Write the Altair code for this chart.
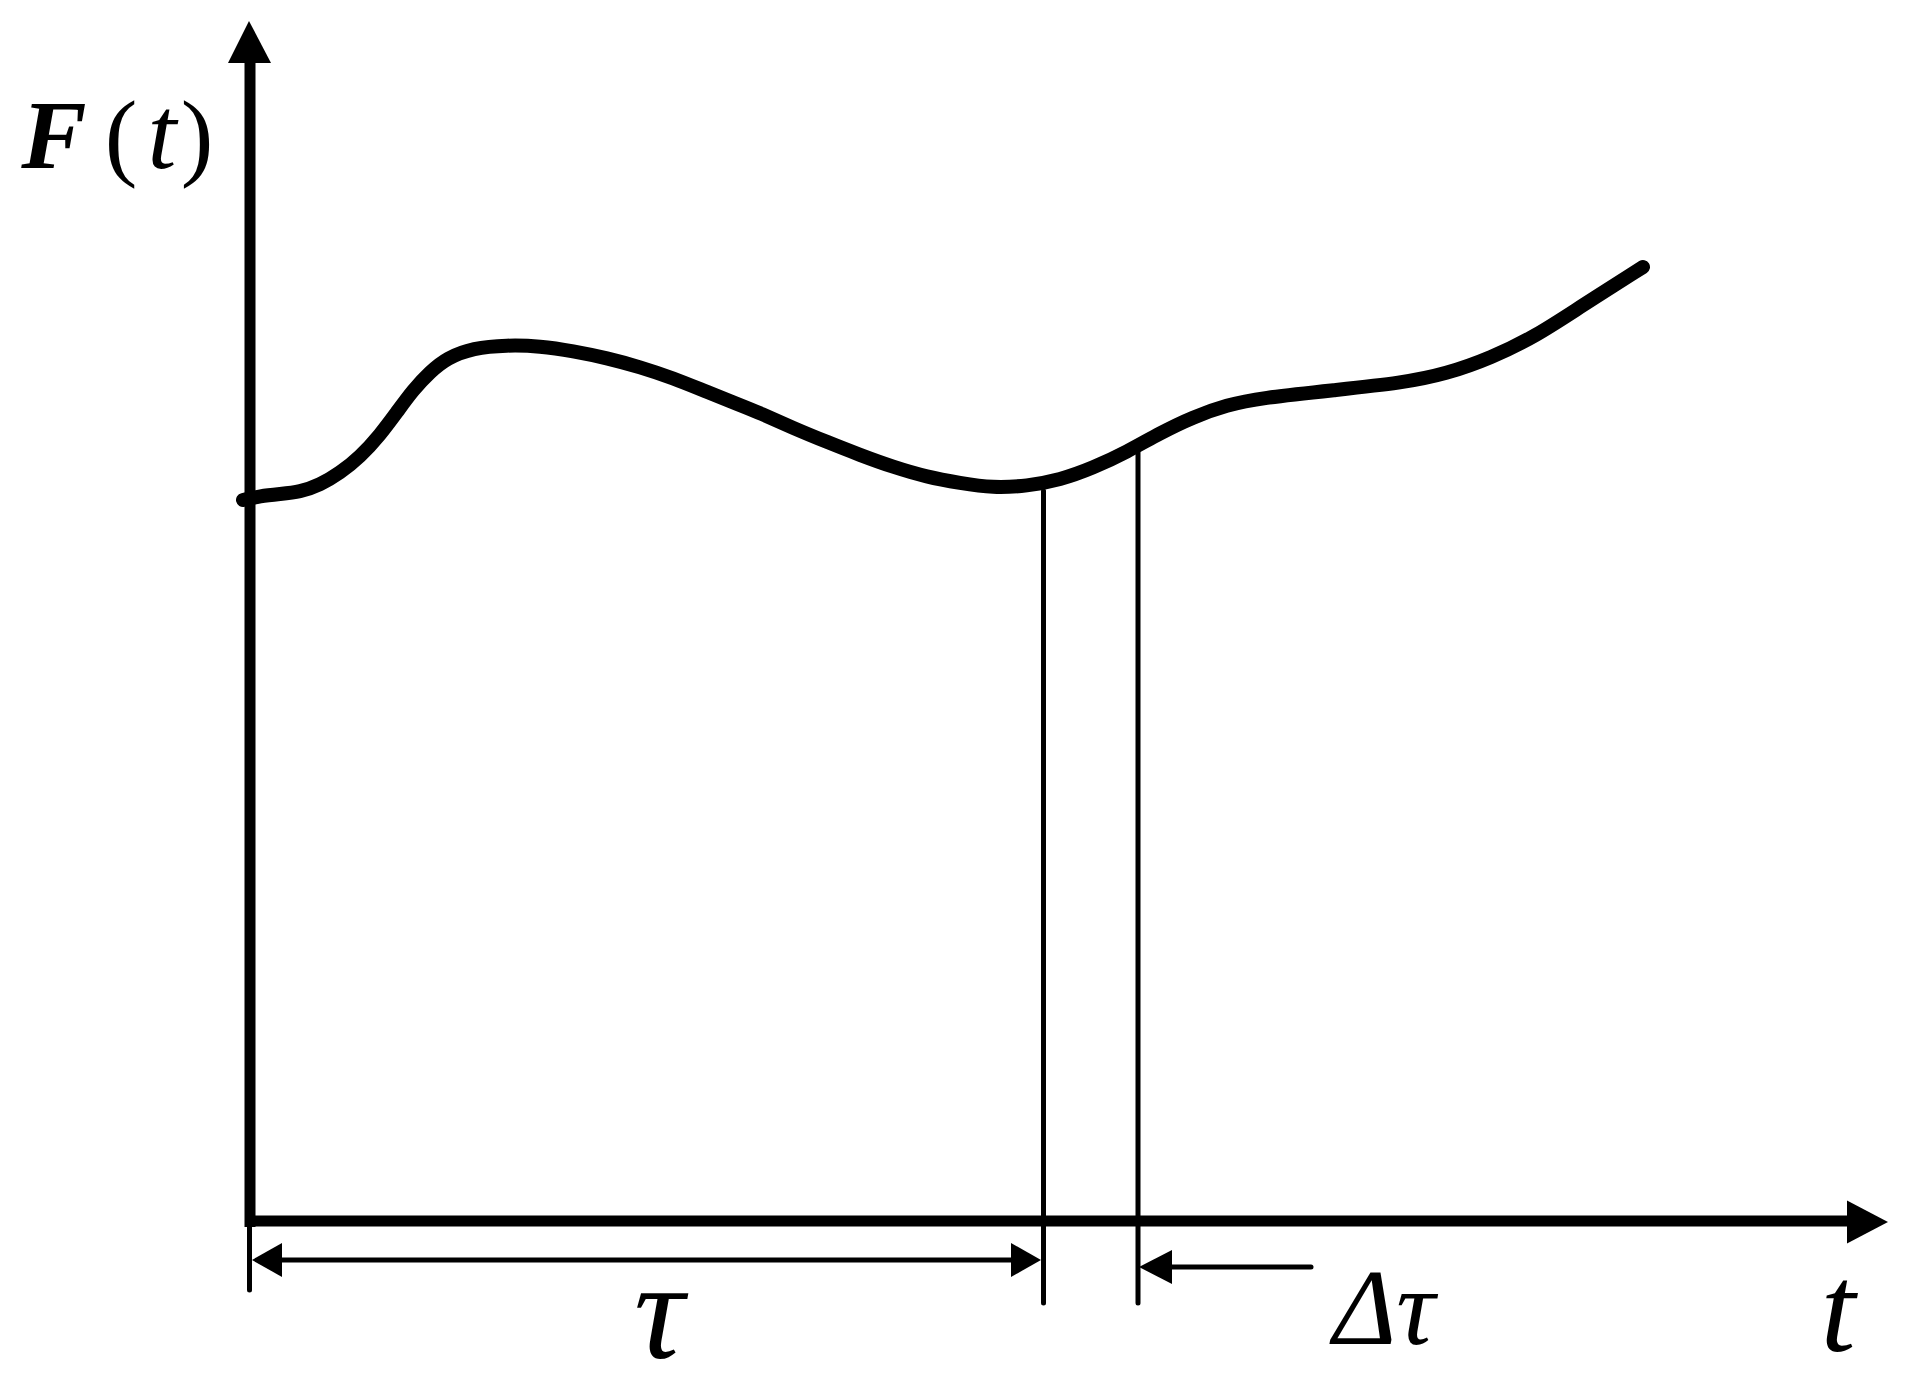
import altair as alt
import pandas as pd

# ---- curve F(t) (data units: 1 unit = 100 px of the reference) ----
curve_t = [-0.07, 0.10, 0.30, 0.50, 0.70, 0.90, 1.10, 1.30, 1.47, 1.63, 1.80, 1.97,
           2.23, 2.57, 2.90, 3.23, 3.57, 3.90, 4.23, 4.57, 4.90, 5.10, 5.43, 5.77,
           6.10, 6.43, 6.77, 7.10, 7.43, 7.77, 8.10, 8.43, 8.77, 9.10, 9.43, 9.77,
           10.10, 10.85, 11.52, 11.96, 12.41, 12.86, 13.30, 13.93]
curve_F = [7.21, 7.25, 7.27, 7.29, 7.36, 7.48, 7.64, 7.86, 8.09, 8.31, 8.49, 8.63,
           8.73, 8.76, 8.75, 8.70, 8.63, 8.54, 8.43, 8.29, 8.16, 8.08, 7.93, 7.79,
           7.66, 7.54, 7.44, 7.38, 7.33, 7.35, 7.41, 7.53, 7.69, 7.88, 8.04, 8.16,
           8.23, 8.31, 8.38, 8.47, 8.63, 8.85, 9.14, 9.54]

# ---- axes (thick) ----
axis_t1 = [0.00, -0.05]
axis_t2 = [0.00, 16.00]
axis_F1 = [-0.06, 0.00]
axis_F2 = [11.60, 0.00]

# ---- thin guide lines / arrow shafts ----
thin_t1 = [-0.005, 7.935, 8.88, 0.25, 9.10]
thin_t2 = [-0.005, 7.935, 8.88, 7.70, 10.61]
thin_F1 = [0.00, 7.30, 7.70, -0.39, -0.46]
thin_F2 = [-0.69, -0.82, -0.82, -0.39, -0.46]

# ---- arrowheads pointing left/right: base t, tip t, base half-span, centre F ----
hhead_id = ["xaxis", "tauL", "tauR", "dtau"]
hhead_base = [15.97, 0.32, 7.61, 9.22]
hhead_tip = [16.38, 0.02, 7.91, 8.89]
hhead_F = [-0.01, -0.39, -0.39, -0.46]
hhead_half = [0.215, 0.17, 0.17, 0.17]

# ---- arrowhead pointing up (y axis) ----
vhead_F = [11.58, 12.00]
vhead_t1 = [-0.22, -0.01]
vhead_t2 = [0.21, -0.01]

# ---- labels ----
lab_F_t = [-1.96]
lab_F_F = [10.53]
paren_text = ["(", ")"]
paren_t = [-1.29, -0.53]
paren_F = [10.53, 10.53]
small_t_t = [-0.88]
small_t_F = [10.53]
tau_t = [4.09]
tau_F = [-1.37]
dtau_t = [11.34]
dtau_F = [-1.23]
tlab_t = [15.88]
tlab_F = [-1.30]

X = alt.Scale(domain=[-2.42, 16.50], nice=False, zero=False)
Y = alt.Scale(domain=[-1.67, 12.13], nice=False, zero=False)
NOAX = None

def xe(f):
    return alt.X(f, type="quantitative", scale=X, axis=NOAX)

def ye(f):
    return alt.Y(f, type="quantitative", scale=Y, axis=NOAX)

curve = alt.Chart(pd.DataFrame({"t": curve_t, "F": curve_F})).mark_line(
    color="black", strokeWidth=14, strokeCap="round", strokeJoin="round",
    interpolate="basis"
).encode(x=xe("t"), y=ye("F"))

axes = alt.Chart(pd.DataFrame({"t1": axis_t1, "t2": axis_t2, "F1": axis_F1, "F2": axis_F2})).mark_rule(
    color="black", strokeWidth=11
).encode(x=xe("t1"), x2="t2", y=ye("F1"), y2="F2")

thin = alt.Chart(pd.DataFrame({"t1": thin_t1, "t2": thin_t2, "F1": thin_F1, "F2": thin_F2})).mark_rule(
    color="black", strokeWidth=5, strokeCap="round"
).encode(x=xe("t1"), x2="t2", y=ye("F1"), y2="F2")

hrows = []
for i, b, tp, fc, h in zip(hhead_id, hhead_base, hhead_tip, hhead_F, hhead_half):
    hrows.append({"id": i, "t": b, "lo": fc - h, "hi": fc + h})
    hrows.append({"id": i, "t": tp, "lo": fc, "hi": fc})
hheads = alt.Chart(pd.DataFrame(hrows)).mark_area(color="black", opacity=1).encode(
    x=xe("t"), y=ye("lo"), y2="hi", detail="id:N"
)

vheads = alt.Chart(pd.DataFrame({"F": vhead_F, "a": vhead_t1, "b": vhead_t2})).mark_area(
    color="black", opacity=1, orient="horizontal"
).encode(y=ye("F"), x=xe("a"), x2="b")

FONT = "Liberation Serif"

lab_F = alt.Chart(pd.DataFrame({"t": lab_F_t, "F": lab_F_F, "s": ["F"]})).mark_text(
    font=FONT, fontSize=98, fontStyle="italic", fontWeight="bold", align="center",
    baseline="alphabetic", color="black"
).encode(x=xe("t"), y=ye("F"), text="s:N")

parens = alt.Chart(pd.DataFrame({"t": paren_t, "F": paren_F, "s": paren_text})).mark_text(
    font=FONT, fontSize=98, align="center", baseline="alphabetic", color="black"
).encode(x=xe("t"), y=ye("F"), text="s:N")

small_t = alt.Chart(pd.DataFrame({"t": small_t_t, "F": small_t_F, "s": ["t"]})).mark_text(
    font=FONT, fontSize=104, fontStyle="italic", align="center", baseline="alphabetic", color="black"
).encode(x=xe("t"), y=ye("F"), text="s:N")

tau = alt.Chart(pd.DataFrame({"t": tau_t, "F": tau_F, "s": ["τ"]})).mark_text(
    font=FONT, fontSize=140, fontStyle="italic", align="center", baseline="alphabetic", color="black"
).encode(x=xe("t"), y=ye("F"), text="s:N")

dtau = alt.Chart(pd.DataFrame({"t": dtau_t, "F": dtau_F, "s": ["Δτ"]})).mark_text(
    font=FONT, fontSize=108, fontStyle="italic", align="center", baseline="alphabetic", color="black"
).encode(x=xe("t"), y=ye("F"), text="s:N")

tlab = alt.Chart(pd.DataFrame({"t": tlab_t, "F": tlab_F, "s": ["t"]})).mark_text(
    font=FONT, fontSize=125, fontStyle="italic", align="center", baseline="alphabetic", color="black"
).encode(x=xe("t"), y=ye("F"), text="s:N")

chart = alt.layer(
    thin, axes, curve, hheads, vheads, lab_F, parens, small_t, tau, dtau, tlab
).properties(
    width=1892, height=1380, padding=0, background="white"
).configure_view(stroke=None)

chart.save("out.html", embed_options={"renderer": "svg", "actions": False})
